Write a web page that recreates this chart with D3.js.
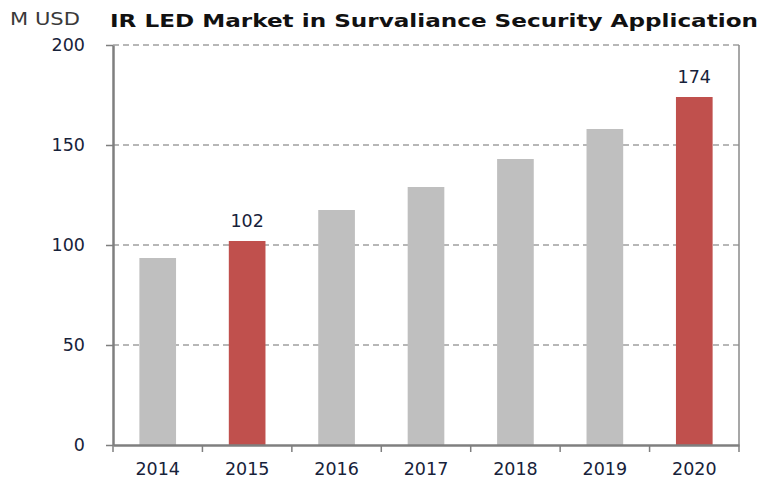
<!DOCTYPE html>
<html><head><meta charset="utf-8">
<script src="https://cdn.jsdelivr.net/npm/d3@7"></script>
<style>body{margin:0;background:#fff}svg{display:block}</style>
</head><body>
<script>
const years = ["2014","2015","2016","2017","2018","2019","2020"];
const values = [93.5, 102, 117.5, 129, 143, 158, 174];
const highlighted = ["2015","2020"];
const yTicks = [0, 50, 100, 150, 200];
const titleText = "IR LED Market in Survaliance Security Application";
const unitText = "M USD";

const W = 761, H = 481;
const m = {left: 113, right: 22, top: 45, bottom: 36};
const svg = d3.select("body").append("svg").attr("width", W).attr("height", H);

const x = d3.scaleBand().domain(years).range([m.left, W - m.right]).paddingInner(0.59).paddingOuter(0.295);
const xb = d3.scaleBand().domain(years).range([m.left, W - m.right]);
const y = d3.scaleLinear().domain([0, 200]).range([H - m.bottom, m.top]);

const font = "Verdana, 'DejaVu Sans', sans-serif";
const txtCol = "#17223a";
const fs = 17.5;

// gridlines
svg.append("g").selectAll("line").data(yTicks.filter(d => d > 0)).join("line")
  .attr("x1", m.left).attr("x2", W - m.right)
  .attr("y1", d => y(d)).attr("y2", d => y(d))
  .attr("stroke", "#a0a0a0").attr("stroke-width", 1.5).attr("stroke-dasharray", "6,4");

// right border
svg.append("line").attr("x1", W - m.right).attr("x2", W - m.right)
  .attr("y1", y(200)).attr("y2", y(0)).attr("stroke", "#8a8a8a").attr("stroke-width", 1.5);

// bars
svg.append("g").selectAll("rect").data(years).join("rect")
  .attr("x", d => x(d)).attr("width", x.bandwidth())
  .attr("y", (d, i) => y(values[i])).attr("height", (d, i) => y(0) - y(values[i]))
  .attr("fill", d => highlighted.includes(d) ? "#c0504d" : "#bfbfbf");

// value labels
svg.append("g").selectAll("text").data(years.filter(d => highlighted.includes(d))).join("text")
  .attr("x", d => x(d) + x.bandwidth() / 2)
  .attr("y", d => y(values[years.indexOf(d)]) - 14)
  .attr("text-anchor", "middle").attr("font-family", font).attr("font-size", fs)
  .attr("fill", txtCol).text(d => values[years.indexOf(d)]);

// y axis
const yAxis = svg.append("g").attr("transform", `translate(${m.left},0)`)
  .call(d3.axisLeft(y).tickValues(yTicks).tickSize(7).tickPadding(21).tickSizeOuter(0));
yAxis.select(".domain").attr("stroke", "#7f7f7f").attr("stroke-width", 2.5);
yAxis.selectAll(".tick line").attr("stroke", "#7f7f7f").attr("stroke-width", 1.5);
yAxis.selectAll(".tick text").attr("font-family", font).attr("font-size", fs).attr("fill", txtCol);

// x axis
const xAxis = svg.append("g").attr("transform", `translate(0,${y(0)})`)
  .call(d3.axisBottom(xb).tickSize(0).tickPadding(18).tickSizeOuter(0));
xAxis.select(".domain").attr("stroke", "#7f7f7f").attr("stroke-width", 2.5);
xAxis.selectAll(".tick text").attr("font-family", font).attr("font-size", fs).attr("fill", txtCol);
// category boundary ticks
svg.append("g").selectAll("line").data(years.concat(["end"])).join("line")
  .attr("x1", (d, i) => i < years.length ? xb(d) : xb(years[years.length - 1]) + xb.bandwidth())
  .attr("x2", (d, i) => i < years.length ? xb(d) : xb(years[years.length - 1]) + xb.bandwidth())
  .attr("y1", y(0)).attr("y2", y(0) + 7)
  .attr("stroke", "#7f7f7f").attr("stroke-width", 1.5);

// title & unit
svg.append("text").attr("x", 110).attr("y", 27).attr("font-family", font)
  .attr("font-weight", "bold").attr("font-size", 18.5).attr("fill", "#111")
  .attr("textLength", 648).attr("lengthAdjust", "spacingAndGlyphs").text(titleText);
svg.append("text").attr("x", 10).attr("y", 25).attr("font-family", font)
  .attr("font-size", 18).attr("fill", "#3a3a3a")
  .attr("textLength", 70).attr("lengthAdjust", "spacingAndGlyphs").text(unitText);
</script>
</body></html>
